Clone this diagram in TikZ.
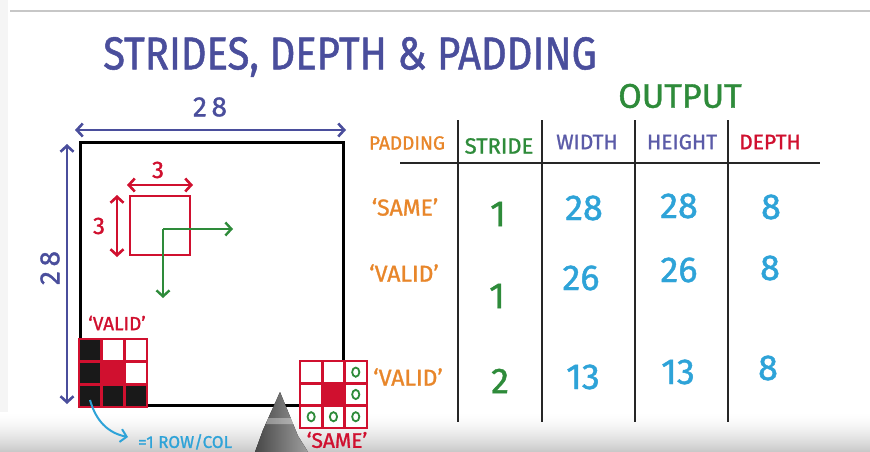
\documentclass[tikz,border=0pt]{standalone}
\usepackage{fontspec}
\setmainfont{Fira Sans}
\newfontfamily\handfont{Fira Sans}[FakeBold=1.2]
\usetikzlibrary{arrows.meta}
\definecolor{inkblue}{HTML}{4A4E9C}
\definecolor{inkpurple}{HTML}{5B5BA8}
\definecolor{inkgreen}{HTML}{2E8B3A}
\definecolor{inkorange}{HTML}{E8862A}
\definecolor{inkred}{HTML}{D0102F}
\definecolor{inkcyan}{HTML}{2EA3D8}
\begin{document}
\begin{tikzpicture}[x=1pt,y=-1pt,
  barb/.style={>={Straight Barb[length=6pt,width=13pt]}},
  dimblue/.style={barb,draw=inkblue,line width=2.6pt,<->},
  dimred/.style={barb,draw=inkred,line width=2.6pt,<->},
  moveg/.style={barb,draw=inkgreen,line width=2.4pt,->},
  gridline/.style={draw=black!85,line width=2.6pt},
  hand/.style={inner sep=0pt,font=\handfont\fontsize{#1}{#1}\selectfont},
  cellw/.style={fill=white,draw=inkred,line width=2.6pt},
  cellk/.style={fill=black!90,draw=inkred,line width=2.6pt},
  cellr/.style={fill=inkred,draw=inkred,line width=2.6pt},
  dot/.style={draw=inkgreen,line width=1.8pt}]
\useasboundingbox (0,0) rectangle (870,452);
\clip (0,0) rectangle (870,452);

% board background with a soft grey band at the bottom
\fill[white] (0,0) rectangle (870,452);
\fill[black!4] (0,0) rectangle (8,452);
\foreach \i [evaluate=\i as \g using {(\i/40)^1.6*22}] in {0,...,40}
  \fill[black!\g] (0,{412+\i}) rectangle (870,{413.5+\i});
\draw[black!22,line width=1.6pt] (10,11) -- (870,11);

% title
\node[hand=40,text=inkblue] (title) at (350,57)
  {\scalebox{1}[1.15]{STRIDES, DEPTH \& PADDING}};

% input image, 28 x 28
\draw[black,line width=3pt] (80,142) rectangle (343,405);
\coordinate (wL) at (75,130); \coordinate (wR) at (346,130);
\draw[dimblue] (wL) -- (wR);
\node[hand=28,text=inkblue] (w28) at (210,107) {2\,8};
\coordinate (hT) at (67,144); \coordinate (hB) at (67,404);
\draw[dimblue] (hT) -- (hB);
\node[hand=28,text=inkblue,rotate=90] (h28) at (50,268) {2\,8};

% 3 x 3 patch
\draw[inkred,line width=2.8pt] (130,196) rectangle (190,255);
\coordinate (pL) at (127,185); \coordinate (pR) at (193,185);
\draw[dimred] (pL) -- (pR);
\node[hand=24,text=inkred] (p3a) at (158,170) {3};
\coordinate (pT) at (117,195); \coordinate (pB) at (117,257);
\draw[dimred] (pT) -- (pB);
\node[hand=24,text=inkred] (p3b) at (99,226) {3};

% stride directions
\coordinate (s0) at (163,229);
\coordinate (sR) at (233,229);
\coordinate (sD) at (163,298);
\draw[moveg] (s0) -- (sR);
\draw[moveg] (s0) -- (sD);

% 'VALID' corner patch
\node[hand=19,text=inkred] (vlab) at (117,323) {‘VALID’};
\foreach \r/\c/\s in {0/0/cellk,0/1/cellw,0/2/cellw,
                      1/0/cellk,1/1/cellr,1/2/cellw,
                      2/0/cellk,2/1/cellk,2/2/cellk}
  \draw[\s] ({79+\c*22.7},{339+\r*22.7}) rectangle ++(22.7,22.7);

% 'SAME' corner patch with zero padding
\foreach \r/\c/\s in {0/0/cellw,0/1/cellw,0/2/cellw,
                      1/0/cellw,1/1/cellr,1/2/cellw,
                      2/0/cellw,2/1/cellw,2/2/cellw}
  \draw[\s] ({300+\c*22.3},{361+\r*22.3}) rectangle ++(22.3,22.3);
\foreach \r/\c in {0/2,1/2,2/0,2/1,2/2}
  \draw[dot] ({300+\c*22.3+11.15},{361+\r*22.3+11.15}) ellipse [x radius=3.6pt,y radius=4.6pt];
\node[hand=21,text=inkred] (slab) at (337,440) {‘SAME’};

% note on the 'VALID' patch
\coordinate (nA) at (90,400);
\coordinate (nB) at (128,437);
\draw[barb,->,draw=inkcyan,line width=2pt] (nA) .. controls (96,421) and (108,433) .. (nB);
\node[hand=17,text=inkcyan,anchor=north west] (note) at (138,434) {=1 ROW/COL};

% pen tip
\fill[left color=black!72,right color=black!38] (280,392) -- (298,436) -- (308,452) -- (255,452) -- (263,430) -- cycle;
\fill[white,opacity=0.35] (268,418) -- (293,418) -- (295,424) -- (266,424) -- cycle;

% output table
\node[hand=34,text=inkgreen] (out) at (680,96) {OUTPUT};
\draw[gridline] (400,163) -- (820,163);
\foreach \x in {458,542,635,728}
  \draw[gridline] (\x,120) -- (\x,422);

\node[hand=19,text=inkorange] (hPad) at (407,143) {PADDING};
\node[hand=22,text=inkgreen] (hStr) at (499,146) {STRIDE};
\node[hand=21,text=inkpurple] (hWid) at (587,142) {WIDTH};
\node[hand=21,text=inkpurple] (hHei) at (682,142) {HEIGHT};
\node[hand=21,text=inkred] (hDep) at (770,142) {DEPTH};

\node[hand=23,text=inkorange] (r1p) at (405,207) {‘SAME’};
\node[hand=36,text=inkgreen] (r1s) at (498,214) {1};
\node[hand=36,text=inkcyan] (r1w) at (584,208) {28};
\node[hand=36,text=inkcyan] (r1h) at (679,206) {28};
\node[hand=36,text=inkcyan] (r1d) at (771,207) {8};

\node[hand=23,text=inkorange] (r2p) at (404,273) {‘VALID’};
\node[hand=36,text=inkgreen] (r2s) at (497,296) {1};
\node[hand=36,text=inkcyan] (r2w) at (581,278) {26};
\node[hand=36,text=inkcyan] (r2h) at (679,270) {26};
\node[hand=36,text=inkcyan] (r2d) at (770,268) {8};

\node[hand=23,text=inkorange] (r3p) at (408,377) {‘VALID’};
\node[hand=36,text=inkgreen] (r3s) at (500,381) {2};
\node[hand=36,text=inkcyan] (r3w) at (583,377) {13};
\node[hand=36,text=inkcyan] (r3h) at (678,372) {13};
\node[hand=36,text=inkcyan] (r3d) at (768,368) {8};
\end{tikzpicture}
\end{document}
